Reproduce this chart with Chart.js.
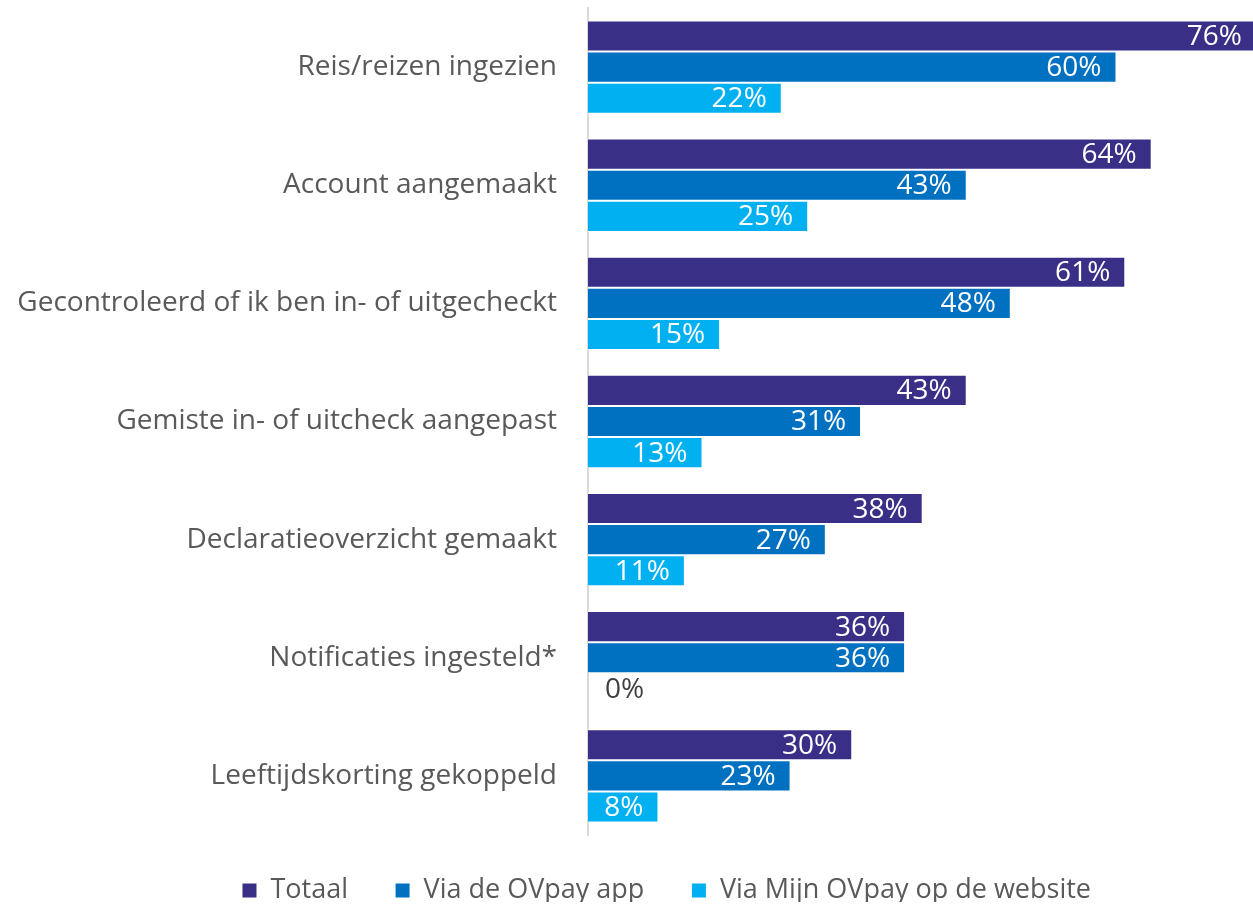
<!DOCTYPE html>
<html>
<head>
<meta charset="utf-8">
<script src="https://cdn.jsdelivr.net/npm/chart.js@4.4.1/dist/chart.umd.min.js"></script>
<style>
html, body { margin: 0; padding: 0; background: #fff; }
#wrap { width: 1253px; height: 907px; }
</style>
</head>
<body>
<div id="wrap"><canvas id="bars" width="1253" height="907"></canvas></div>
<script>
const categories = [
  'Reis/reizen ingezien',
  'Account aangemaakt',
  'Gecontroleerd of ik ben in- of uitgecheckt',
  'Gemiste in- of uitcheck aangepast',
  'Declaratieoverzicht gemaakt',
  'Notificaties ingesteld*',
  'Leeftijdskorting gekoppeld'
];
const seriesNames = ['Totaal', 'Via de OVpay app', 'Via Mijn OVpay op de website'];
const totaal = [76, 64, 61, 43, 38, 36, 30];
const viaApp = [60, 43, 48, 31, 27, 36, 23];
const viaWebsite = [22, 25, 15, 13, 11, 0, 8];

const colors = ['#3A2F87', '#0070C0', '#00B0F0'];
const FONT = "'Open Sans', 'Noto Sans', sans-serif";

// percentages written at the end of each bar
const barLabels = {
  id: 'barLabels',
  afterDatasetsDraw(chart) {
    const ctx = chart.ctx;
    ctx.save();
    ctx.font = '28px ' + FONT;
    ctx.textBaseline = 'middle';
    chart.data.datasets.forEach((ds, i) => {
      const meta = chart.getDatasetMeta(i);
      meta.data.forEach((bar, j) => {
        const text = ds.data[j] + '%';
        const w = ctx.measureText(text).width;
        const end = Math.min(bar.x, chart.chartArea.right + 4);
        if (end - bar.base > w + 24) {
          ctx.fillStyle = '#ffffff';
          ctx.textAlign = 'right';
          ctx.fillText(text, end - 15, bar.y + 1);
        } else {
          ctx.fillStyle = '#404040';
          ctx.textAlign = 'left';
          ctx.fillText(text, bar.x + 17, bar.y + 1);
        }
      });
    });
    ctx.restore();
  }
};

// short legend strip under the plot, its items nudged right and up a little
const legendBox = {
  id: 'legendBox',
  beforeLayout(chart) {
    const legend = chart.legend;
    if (legend && !legend.fitPatched) {
      const fit = legend.fit;
      legend.fit = function () { fit.call(this); this.height = 72; };
      legend.fitPatched = true;
    }
  },
  afterLayout(chart) {
    chart.legend.left += 40;
    chart.legend.right += 40;
    chart.legend.top -= 5;
    chart.legend.bottom -= 5;
  }
};

const datasets = [totaal, viaApp, viaWebsite].map((values, i) => ({
  label: seriesNames[i],
  data: values,
  backgroundColor: colors[i],
  borderColor: '#ffffff',
  borderWidth: 1,
  categoryPercentage: 0.79,
  barPercentage: 1
}));

new Chart(document.getElementById('bars'), {
  type: 'bar',
  data: { labels: categories, datasets: datasets },
  options: {
    responsive: false,
    animation: false,
    indexAxis: 'y',
    layout: { padding: { top: 8, right: 0, bottom: 0, left: 0 } },
    scales: {
      x: { display: false, min: 0, max: 75.5 },
      y: {
        grid: { display: false, drawTicks: false },
        border: { display: true, color: '#d9d9d9', width: 2 },
        ticks: { color: '#595959', font: { family: FONT, size: 28 }, padding: 31 },
        afterFit(scale) {
          scale.width = 588;
          scale.paddingTop = 0;
          scale.paddingBottom = 0;
        }
      }
    },
    plugins: {
      legend: {
        position: 'bottom',
        labels: {
          boxWidth: 15,
          boxHeight: 15,
          padding: 47,
          color: '#595959',
          font: { family: FONT, size: 27 }
        }
      },
      tooltip: { enabled: false }
    }
  },
  plugins: [barLabels, legendBox]
});
</script>
</body>
</html>
